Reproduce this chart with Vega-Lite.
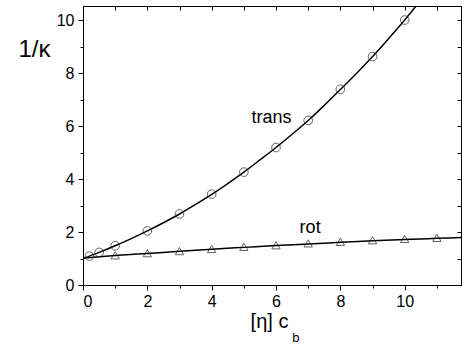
{
  "$schema": "https://vega.github.io/schema/vega-lite/v6.json",
  "width": 378,
  "height": 279,
  "autosize": {"type": "none"},
  "padding": {"left": 83, "top": 6, "right": 3, "bottom": 65},
  "background": "white",
  "config": {
    "view": {"stroke": "black", "strokeWidth": 1},
    "font": "Liberation Sans",
    "axis": {"domainColor": "black", "tickColor": "black", "labelColor": "black", "titleColor": "black", "grid": false, "labelFont": "Liberation Sans", "titleFont": "Liberation Sans", "labelFontSize": 16, "titleFontWeight": "normal"}
  },
  "datasets": {
    "trans": [
      {"c": 0.2, "v": 1.09}, {"c": 0.5, "v": 1.23}, {"c": 1, "v": 1.48}, {"c": 2, "v": 2.04},
      {"c": 3, "v": 2.68}, {"c": 4, "v": 3.43}, {"c": 5, "v": 4.26}, {"c": 6, "v": 5.19},
      {"c": 7, "v": 6.21}, {"c": 8, "v": 7.39}, {"c": 9, "v": 8.62}, {"c": 10, "v": 10.0}
    ],
    "rot": [
      {"c": 1, "v": 1.12}, {"c": 2, "v": 1.2}, {"c": 3, "v": 1.28}, {"c": 4, "v": 1.36},
      {"c": 5, "v": 1.44}, {"c": 6, "v": 1.5}, {"c": 7, "v": 1.57}, {"c": 8, "v": 1.63},
      {"c": 9, "v": 1.69}, {"c": 10, "v": 1.74}, {"c": 11, "v": 1.78}
    ],
    "transCurve": [
      {"c": 0, "v": 1.0}, {"c": 0.5, "v": 1.23}, {"c": 1, "v": 1.48}, {"c": 1.5, "v": 1.75},
      {"c": 2, "v": 2.04}, {"c": 2.5, "v": 2.35}, {"c": 3, "v": 2.68}, {"c": 3.5, "v": 3.04},
      {"c": 4, "v": 3.42}, {"c": 4.5, "v": 3.83}, {"c": 5, "v": 4.26}, {"c": 5.5, "v": 4.72},
      {"c": 6, "v": 5.19}, {"c": 6.5, "v": 5.69}, {"c": 7, "v": 6.21}, {"c": 7.5, "v": 6.78},
      {"c": 8, "v": 7.38}, {"c": 8.5, "v": 7.98}, {"c": 9, "v": 8.62}, {"c": 9.5, "v": 9.3},
      {"c": 10, "v": 10.0}, {"c": 10.5, "v": 10.76}
    ],
    "rotCurve": [
      {"c": 0, "v": 1.02}, {"c": 1, "v": 1.11}, {"c": 2, "v": 1.19}, {"c": 3, "v": 1.27},
      {"c": 4, "v": 1.35}, {"c": 5, "v": 1.42}, {"c": 6, "v": 1.49}, {"c": 7, "v": 1.55},
      {"c": 8, "v": 1.61}, {"c": 9, "v": 1.67}, {"c": 10, "v": 1.72}, {"c": 11, "v": 1.76},
      {"c": 11.75, "v": 1.79}
    ],
    "labels": [
      {"c": 5.86, "v": 6.11, "t": "trans"},
      {"c": 7.06, "v": 1.97, "t": "rot"}
    ]
  },
  "resolve": {"axis": {"x": "independent", "y": "independent"}},
  "layer": [
    {
      "data": {"name": "transCurve"},
      "mark": {"type": "line", "color": "black", "strokeWidth": 1.5, "interpolate": "monotone", "clip": true},
      "encoding": {
        "x": {"field": "c", "type": "quantitative", "scale": {"domain": [0, 11.75], "nice": false, "zero": false},
          "axis": {"orient": "bottom", "values": [0, 2, 4, 6, 8, 10], "tickSize": 5, "labelPadding": 3, "title": "[η] c", "titleFontSize": 20, "titleAngle": 0, "titleX": 186, "titleY": 42, "titleAlign": "center", "titleBaseline": "alphabetic"}},
        "y": {"field": "v", "type": "quantitative", "scale": {"domain": [0, 10.53], "nice": false, "zero": false},
          "axis": {"orient": "left", "values": [0, 2, 4, 6, 8, 10], "tickSize": 5, "labelPadding": 4, "title": "1/κ", "titleFontSize": 24, "titleAngle": 0, "titleX": -49, "titleY": 50, "titleAlign": "center", "titleBaseline": "alphabetic"}}
      }
    },
    {
      "data": {"name": "rotCurve"},
      "mark": {"type": "line", "color": "black", "strokeWidth": 1.5, "interpolate": "monotone", "clip": true},
      "encoding": {
        "x": {"field": "c", "type": "quantitative", "axis": {"orient": "bottom", "values": [1, 3, 5, 7, 9, 11], "tickSize": 3, "labels": false, "title": null, "domain": false}},
        "y": {"field": "v", "type": "quantitative", "axis": {"orient": "left", "values": [1, 3, 5, 7, 9], "tickSize": 3, "labels": false, "title": null, "domain": false}}
      }
    },
    {
      "data": {"name": "trans"},
      "mark": {"type": "point", "shape": "circle", "size": 75, "filled": false, "stroke": "#222", "strokeWidth": 1, "clip": true},
      "encoding": {
        "x": {"field": "c", "type": "quantitative", "axis": {"orient": "top", "values": [0, 1, 2, 3, 4, 5, 6, 7, 8, 9, 10, 11], "tickSize": -4, "labels": false, "title": null}},
        "y": {"field": "v", "type": "quantitative", "axis": {"orient": "right", "values": [0, 1, 2, 3, 4, 5, 6, 7, 8, 9, 10], "tickSize": -4, "labels": false, "title": null}}
      }
    },
    {
      "data": {"name": "rot"},
      "mark": {"type": "point", "shape": "triangle-up", "size": 70, "filled": false, "stroke": "#222", "strokeWidth": 1, "clip": true},
      "encoding": {
        "x": {"field": "c", "type": "quantitative", "axis": null},
        "y": {"field": "v", "type": "quantitative", "axis": null}
      }
    },
    {
      "data": {"name": "labels"},
      "mark": {"type": "text", "fontSize": 18, "font": "Liberation Sans", "align": "center", "baseline": "alphabetic", "color": "black"},
      "encoding": {
        "x": {"field": "c", "type": "quantitative", "axis": null},
        "y": {"field": "v", "type": "quantitative", "axis": null},
        "text": {"field": "t"}
      }
    },
    {
      "data": {"values": [{"c": 6.62, "v": -2.15, "t": "b"}]},
      "mark": {"type": "text", "fontSize": 13, "font": "Liberation Sans", "align": "center", "baseline": "alphabetic", "color": "black"},
      "encoding": {
        "x": {"field": "c", "type": "quantitative", "axis": null},
        "y": {"field": "v", "type": "quantitative", "axis": null},
        "text": {"field": "t"}
      }
    }
  ]
}
